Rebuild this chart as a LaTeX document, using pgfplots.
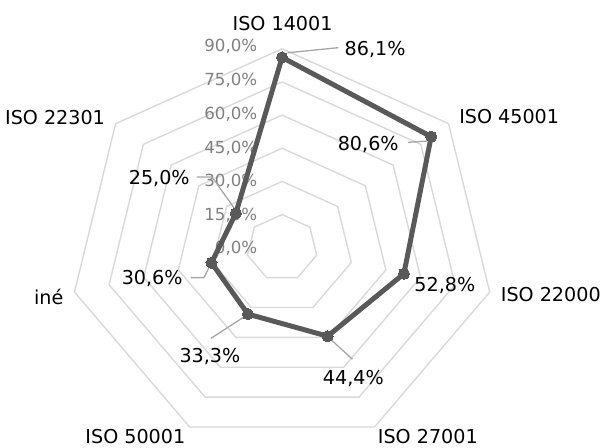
\documentclass[border=0pt]{standalone}
\usepackage{pgfplots}
\pgfplotsset{compat=1.18}
\usepackage{pgfplotstable}
\usepackage{fontspec}
\setmainfont{DejaVu Sans}
\definecolor{ringgray}{HTML}{D9D9D9}
\definecolor{datagray}{HTML}{595959}
\definecolor{tickgray}{HTML}{808080}
\definecolor{leadgray}{HTML}{A6A6A6}

% angle (deg) and value (%) for each category, clockwise from top
\pgfplotstableread{
a r
90 86.1
38.5714 80.6
-12.8571 52.8
-64.2857 44.4
-115.7143 33.3
-167.1429 30.6
141.4286 25.0
90 86.1
}\datatable

\pgfplotstableread{
a u
90 1
38.5714 1
-12.8571 1
-64.2857 1
-115.7143 1
-167.1429 1
141.4286 1
90 1
}\angles

\newcommand{\catfont}{\fontsize{19.3}{21}\selectfont}
\newcommand{\tickfont}{\fontsize{16.8}{18}\selectfont}

\begin{document}
\begin{tikzpicture}
\begin{axis}[
  scale only axis, width=604bp, height=448bp,
  xmin=-119.22, xmax=134.78, ymin=-89.56, ymax=112.06,
  hide axis, clip=false,
]
\path (rel axis cs:0,0) rectangle (rel axis cs:1,1);
% heptagonal grid rings
\pgfplotsinvokeforeach{15,30,45,60,75,90}{
  \addplot[ringgray, line width=1.4bp, no markers, line join=miter]
    table[x expr={#1*\thisrow{u}*cos(\thisrow{a})}, y expr={#1*\thisrow{u}*sin(\thisrow{a})}] {\angles};
}
% radial tick labels
\node[anchor=east, text=tickgray, font=\tickfont] at (axis cs:-9,90.9) {90,0\%};
\node[anchor=east, text=tickgray, font=\tickfont] at (axis cs:-9,75.7) {75,0\%};
\node[anchor=east, text=tickgray, font=\tickfont] at (axis cs:-9,60.5) {60,0\%};
\node[anchor=east, text=tickgray, font=\tickfont] at (axis cs:-9,45.2) {45,0\%};
\node[anchor=east, text=tickgray, font=\tickfont] at (axis cs:-9,30.0) {30,0\%};
\node[anchor=east, text=tickgray, font=\tickfont] at (axis cs:-9,14.8) {15,0\%};
\node[anchor=east, text=tickgray, font=\tickfont] at (axis cs:-9,-0.45) {0,0\%};
% leader lines
\addplot[leadgray, line width=1.3bp, no markers] coordinates {(2.3,88.2) (23.8,90.5)};
\addplot[leadgray, line width=1.3bp, no markers] coordinates {(53.2,47.7) (60.8,48.2) (62.9,50.9)};
\addplot[leadgray, line width=1.3bp, no markers] coordinates {(19.6,-40.5) (29.7,-50.4)};
\addplot[leadgray, line width=1.3bp, no markers] coordinates {(-14.5,-30.2) (-30.1,-41.0)};
\addplot[leadgray, line width=1.3bp, no markers] coordinates {(-38.5,-13.5) (-33.0,-13.5) (-30.1,-7.2)};
\addplot[leadgray, line width=1.3bp, no markers] coordinates {(-36.0,32.0) (-29.6,32.0) (-19.1,16.2)};
% data series
\addplot[datagray, line width=5bp, line join=round, mark=*, mark size=5.6bp,
  mark options={fill=datagray, draw=datagray, line width=0pt}]
  table[x expr={\thisrow{r}*cos(\thisrow{a})}, y expr={\thisrow{r}*sin(\thisrow{a})}] {\datatable};
% data labels
\node[font=\catfont] at (axis cs:39.3,89.6) {86,1\%};
\node[font=\catfont] at (axis cs:36.4,46.8) {80,6\%};
\node[font=\catfont] at (axis cs:68.8,-17.1) {52,8\%};
\node[font=\catfont] at (axis cs:30.1,-59.0) {44,4\%};
\node[font=\catfont] at (axis cs:-30.5,-49.1) {33,3\%};
\node[font=\catfont] at (axis cs:-54.9,-14.0) {30,6\%};
\node[font=\catfont] at (axis cs:-51.9,31.1) {25,0\%};
% category labels
\node[font=\catfont] at (axis cs:0.2,101.3) {ISO 14001};
\node[font=\catfont, anchor=west] at (axis cs:73.4,59.4) {ISO 45001};
\node[font=\catfont, anchor=west] at (axis cs:91.0,-21.2) {ISO 22000};
\node[font=\catfont] at (axis cs:61.6,-85.5) {ISO 27001};
\node[font=\catfont] at (axis cs:-62.0,-85.5) {ISO 50001};
\node[font=\catfont, anchor=east] at (axis cs:-91.0,-22.1) {iné};
\node[font=\catfont, anchor=east] at (axis cs:-73.4,59.0) {ISO 22301};
\end{axis}
\end{tikzpicture}
\end{document}
